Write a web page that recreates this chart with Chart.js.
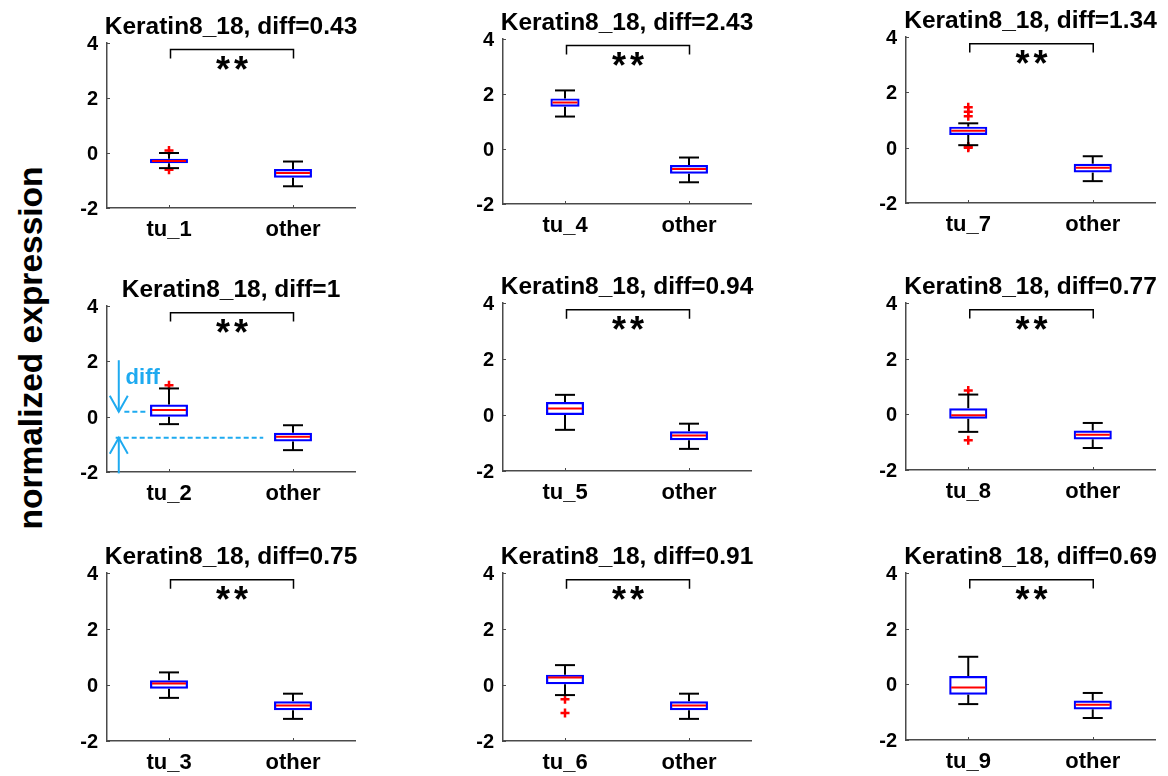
<!DOCTYPE html>
<html><head><meta charset="utf-8">
<script src="https://cdn.jsdelivr.net/npm/chart.js@4.4.1/dist/chart.umd.min.js"></script>
<style>
html,body{margin:0;padding:0;background:#fff;overflow:hidden;}
#wrap{position:relative;width:1168px;height:776px;overflow:hidden;background:#fff;}
#wrap canvas{position:absolute;}
#ylabel{position:absolute;left:-169px;top:328px;width:400px;height:40px;line-height:40px;text-align:center;
  font-family:"Liberation Sans",Arial,Helvetica,sans-serif;font-weight:bold;font-size:33.5px;color:#000;
  transform:rotate(-90deg);white-space:nowrap;}
</style></head>
<body><div id="wrap"><div id="ylabel">normalized expression</div></div>
<script>
// ---------------- data ----------------
const geneName = 'Keratin8_18';
const tuLabels = ['tu_1','tu_2','tu_3','tu_4','tu_5','tu_6','tu_7','tu_8','tu_9'];
const otherLabel = 'other';
const diffValues = [0.43, 1, 0.75, 2.43, 0.94, 0.91, 1.34, 0.77, 0.69];

const tuWhiskerLow  = [-0.55, -0.27, -0.46, 1.18, -0.53, -0.36, 0.09, -0.63, -0.71];
const tuQ1          = [-0.37,  0.00, -0.13, 1.54,  0.00,  0.03, 0.46, -0.16, -0.37];
const tuMedian      = [-0.29,  0.24,  0.05, 1.69,  0.23,  0.27, 0.61, -0.03, -0.11];
const tuQ3          = [-0.21,  0.44,  0.17, 1.84,  0.46,  0.37, 0.76,  0.22,  0.30];
const tuWhiskerHigh = [ 0.00,  1.02,  0.45, 2.13,  0.72,  0.71, 0.88,  0.71,  0.99];
const tuOutliers    = [[0.09,-0.61],[1.14],[],[],[],[-0.51,-1.0],[1.46,1.30,1.14,0.04,0.0],[0.86,-0.93],[]];

const otherWhiskerLow = -1.21, otherQ1 = -0.90, otherMedian = -0.73, otherQ3 = -0.58, otherWhiskerHigh = -0.31;

const yTickValues = [-2, 0, 2, 4];
const yMin = -2, yMax = 4;
const sigLabel = '**';
const bracketLevel = 3.76, bracketTickEnd = 3.44, starLevel = 3.27;

// "diff" annotation on the tu_2 panel (values in axis units)
const diffPanel = 'tu_2';
const diffArrowX = -0.405;
const diffTopArrowFrom = 2.04, diffTopLevel = 0.18;
const diffBottomArrowFrom = -2.05, diffBottomLevel = -0.76;
const diffDashTop = [-0.36, -0.19];
const diffDashBottom = [-0.43, 0.76];
const diffTextPos = [-0.35, 1.18];
const diffText = 'diff';

// ---------------- layout / style ----------------
const FONT = '"Liberation Sans", Arial, Helvetica, sans-serif';
const panelAreas = [ // [left, top, right, bottom] of each plot area
  [107, 43, 355, 208], [107, 306, 355, 472], [107, 573, 355, 741],
  [503, 39, 751, 204], [503, 303, 751, 471], [503, 573, 751, 741],
  [906, 37, 1155, 203], [906, 303, 1155, 470], [906, 573, 1155, 740]
];
const tuBoxPct = [0.306,0.306,0.306,0.235,0.306,0.306,0.306,0.306,0.306];
const otherBoxPct = 0.306;
const AX_LEFT = 62, AX_BOTTOM = 44, PAD_TOP = 40, PAD_RIGHT = 13;
const axisColor = '#4a4a4a';
const blue = '#0000ff', red = '#ff0000', diffColor = '#1eaaf0';

function seg(ctx, x1, y1, x2, y2) { ctx.beginPath(); ctx.moveTo(x1, y1); ctx.lineTo(x2, y2); ctx.stroke(); }

const boxPlugin = {
  id: 'boxExtras',
  afterDatasetsDraw(chart) {
    const p = chart.$panel, xs = chart.scales.x, ys = chart.scales.y, ctx = chart.ctx;
    ctx.save();
    p.boxes.forEach((b, i) => {
      const el = chart.getDatasetMeta(i).data[i];
      const cx = xs.getPixelForValue(i);
      const half = el.width / 2;
      const capHalf = 10;
      ctx.strokeStyle = '#000'; ctx.lineWidth = 2; ctx.lineCap = 'butt';
      seg(ctx, cx, ys.getPixelForValue(b.q3), cx, ys.getPixelForValue(b.wH));
      seg(ctx, cx, ys.getPixelForValue(b.q1), cx, ys.getPixelForValue(b.wL));
      seg(ctx, cx - capHalf, ys.getPixelForValue(b.wH), cx + capHalf, ys.getPixelForValue(b.wH));
      seg(ctx, cx - capHalf, ys.getPixelForValue(b.wL), cx + capHalf, ys.getPixelForValue(b.wL));
      ctx.strokeStyle = red;
      const ym = ys.getPixelForValue(b.med);
      seg(ctx, cx - half + 2, ym, cx + half - 2, ym);
    });
    ctx.restore();
  },
  afterDraw(chart) {
    const p = chart.$panel, xs = chart.scales.x, ys = chart.scales.y, ctx = chart.ctx;
    const ca = chart.chartArea;
    ctx.save();
    // inward ticks
    ctx.strokeStyle = axisColor; ctx.lineWidth = 1;
    yTickValues.forEach(v => { const y = Math.round(ys.getPixelForValue(v)) + 0.5; seg(ctx, ca.left, y, ca.left + 3, y); });
    [0, 1].forEach(i => { const x = Math.round(xs.getPixelForValue(i)) + 0.5; seg(ctx, x, ca.bottom, x, ca.bottom - 3); });
    // title
    ctx.fillStyle = '#000';
    ctx.font = 'bold 24.5px ' + FONT;
    ctx.textAlign = 'center'; ctx.textBaseline = 'alphabetic';
    ctx.fillText(p.title, (ca.left + ca.right) / 2, ca.top - 9.5);
    // significance bracket
    const x1 = xs.getPixelForValue(0) + 1.5, x2 = xs.getPixelForValue(1) + 0.5;
    const yb = ys.getPixelForValue(bracketLevel), yt = ys.getPixelForValue(bracketTickEnd);
    ctx.strokeStyle = '#000'; ctx.lineWidth = 1.5;
    ctx.beginPath(); ctx.moveTo(x1, yt); ctx.lineTo(x1, yb); ctx.lineTo(x2, yb); ctx.lineTo(x2, yt); ctx.stroke();
    ctx.font = 'bold 36px ' + FONT;
    const m = ctx.measureText('*');
    const ys0 = ys.getPixelForValue(starLevel) + (m.actualBoundingBoxAscent - m.actualBoundingBoxDescent) / 2;
    const cxs = (x1 + x2) / 2;
    ctx.textAlign = 'center';
    ctx.fillText(sigLabel[0], cxs - 9, ys0);
    ctx.fillText(sigLabel[1], cxs + 9, ys0);
    // diff annotation
    if (p.showDiff) {
      ctx.strokeStyle = diffColor; ctx.fillStyle = diffColor; ctx.lineWidth = 2;
      const ax = xs.getPixelForValue(diffArrowX);
      const yT0 = ys.getPixelForValue(diffTopArrowFrom), yT1 = ys.getPixelForValue(diffTopLevel);
      const yB0 = ys.getPixelForValue(diffBottomArrowFrom), yB1 = ys.getPixelForValue(diffBottomLevel);
      seg(ctx, ax, yT0, ax, yT1);
      ctx.beginPath(); ctx.moveTo(ax - 9, yT1 - 16); ctx.lineTo(ax, yT1); ctx.lineTo(ax + 9, yT1 - 16); ctx.stroke();
      seg(ctx, ax, yB0, ax, yB1);
      ctx.beginPath(); ctx.moveTo(ax - 9, yB1 + 16); ctx.lineTo(ax, yB1); ctx.lineTo(ax + 9, yB1 + 16); ctx.stroke();
      ctx.setLineDash([5, 3]);
      seg(ctx, xs.getPixelForValue(diffDashTop[0]), yT1, xs.getPixelForValue(diffDashTop[1]), yT1);
      seg(ctx, xs.getPixelForValue(diffDashBottom[0]), yB1, xs.getPixelForValue(diffDashBottom[1]), yB1);
      ctx.setLineDash([]);
      ctx.font = 'bold 22px ' + FONT;
      ctx.textAlign = 'left'; ctx.textBaseline = 'alphabetic';
      ctx.fillText(diffText, xs.getPixelForValue(diffTextPos[0]), ys.getPixelForValue(diffTextPos[1]));
    }
    ctx.restore();
  }
};

const wrap = document.getElementById('wrap');
tuLabels.forEach((tu, i) => {
  const [L, T, R, B] = panelAreas[i];
  const cv = document.createElement('canvas');
  const W = (R - L) + AX_LEFT + PAD_RIGHT, H = PAD_TOP + (B - T) + AX_BOTTOM;
  cv.width = W; cv.height = H;
  cv.style.width = W + 'px'; cv.style.height = H + 'px';
  cv.style.left = (L - AX_LEFT) + 'px'; cv.style.top = (T - PAD_TOP) + 'px';
  wrap.appendChild(cv);

  const boxes = [
    { q1: tuQ1[i], q3: tuQ3[i], med: tuMedian[i], wL: tuWhiskerLow[i], wH: tuWhiskerHigh[i] },
    { q1: otherQ1, q3: otherQ3, med: otherMedian, wL: otherWhiskerLow, wH: otherWhiskerHigh }
  ];
  const barCommon = { backgroundColor: 'rgba(255,255,255,0)', borderColor: blue, borderWidth: 2.2,
                      borderSkipped: false, grouped: false, categoryPercentage: 1 };
  new Chart(cv, {
    type: 'bar',
    data: {
      labels: [tu, otherLabel],
      datasets: [
        Object.assign({ data: [[tuQ1[i], tuQ3[i]], null], barPercentage: tuBoxPct[i] }, barCommon),
        Object.assign({ data: [null, [otherQ1, otherQ3]], barPercentage: otherBoxPct }, barCommon),
        { type: 'scatter', data: tuOutliers[i].map(v => ({ x: tu, y: v })), pointStyle: 'cross',
          pointRadius: 4.5, pointBorderWidth: 2.5, borderColor: red, backgroundColor: red, showLine: false }
      ]
    },
    options: {
      responsive: false, animation: false, devicePixelRatio: 1, events: [],
      layout: { padding: { left: 0, top: PAD_TOP, right: PAD_RIGHT, bottom: 0 } },
      plugins: { legend: { display: false }, tooltip: { enabled: false }, title: { display: false } },
      scales: {
        x: {
          type: 'category', offset: true,
          grid: { display: false, drawTicks: false },
          border: { display: true, color: axisColor, width: 1.5 },
          ticks: { color: '#000', font: { family: FONT, size: 22, weight: 'bold' }, padding: 9, maxRotation: 0, autoSkip: false },
          afterFit(s) { s.height = AX_BOTTOM; s.paddingLeft = 0; s.paddingRight = 0; }
        },
        y: {
          type: 'linear', min: yMin, max: yMax,
          afterBuildTicks(s) { s.ticks = yTickValues.map(v => ({ value: v })); },
          grid: { display: false, drawTicks: false },
          border: { display: true, color: axisColor, width: 1.5 },
          ticks: { color: '#000', font: { family: FONT, size: 20, weight: 'bold' }, padding: 9, labelOffset: 1.5 },
          afterFit(s) { s.width = AX_LEFT; s.paddingTop = 0; s.paddingBottom = 0; }
        }
      }
    },
    plugins: [{
      id: 'panelInfo',
      beforeInit(c) { c.$panel = { title: geneName + ', diff=' + diffValues[i], boxes, showDiff: tu === diffPanel }; }
    }, boxPlugin]
  });
});
</script>
</body></html>
